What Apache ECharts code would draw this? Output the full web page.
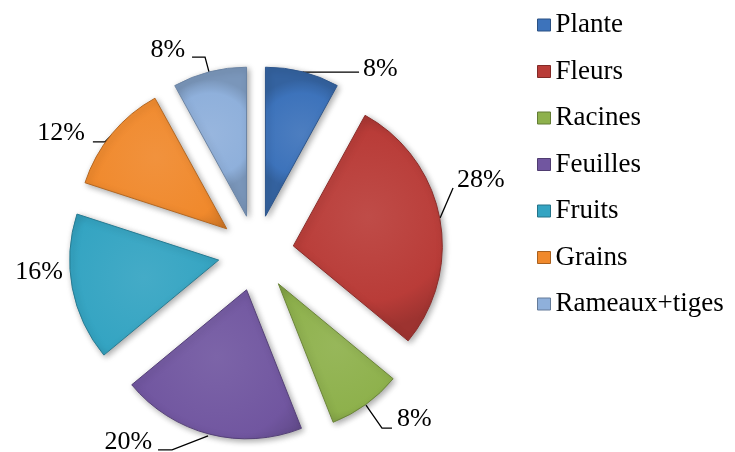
<!DOCTYPE html>
<html>
<head>
<meta charset="utf-8">
<script src="https://cdn.jsdelivr.net/npm/echarts@6/dist/echarts.min.js"></script>
<style>
html,body{margin:0;padding:0;background:#fff;}
#chart{width:735px;height:452px;}
</style>
</head>
<body>
<div id="chart"></div>
<script>
// ---- data ----
const categories = ['Plante', 'Fleurs', 'Racines', 'Feuilles', 'Fruits', 'Grains', 'Rameaux+tiges'];
const values = [8, 28, 8, 20, 16, 12, 8];
const colors = ['#3d73bb', '#b93c38', '#8eb14c', '#7156a0', '#34a4c2', '#f0892c', '#8fb0db'];

// ---- label placement tweaks (relative to the library's leader anchor on the un-exploded pie) ----
const labelTweaks = [
  { line: [[9.4, -36.8], [11, -36.6], [66, -36.6]], text: [70, -39.6], align: 'left' },
  { line: [[37.7, -7.1], [50.7, -37.1], [50.7, -37.1]], text: [54.7, -45.1], align: 'left' },
  { line: [[22.4, 31.5], [38.4, 54.5], [48.4, 54.5]], text: [53.4, 45.5], align: 'left' },
  { line: [[-10.9, 38.6], [-46.9, 52.6], [-60.9, 52.6]], text: [-66.9, 44.6], align: 'right' },
  { line: null, text: [-46.7, -8.9], align: 'right' },
  { line: [[-29.3, -23.1], [-36.3, -16.1], [-48.3, -16.1]], text: [-56.3, -25.1], align: 'right' },
  { line: [[-9.9, -36.6], [-13.9, -51.6], [-26.9, -51.6]], text: [-33.9, -58.6], align: 'right' }
];

const FONT = "'Liberation Serif', 'Times New Roman', Times, serif";

function shade(hex, amt) {
  const n = parseInt(hex.slice(1), 16);
  let r = (n >> 16) & 255, g = (n >> 8) & 255, b = n & 255;
  const f = c => Math.max(0, Math.min(255, Math.round(amt >= 0 ? c + (255 - c) * amt : c * (1 + amt))));
  return 'rgb(' + f(r) + ',' + f(g) + ',' + f(b) + ')';
}

function fillFor(c) {
  return {
    type: 'radial', x: 0.5, y: 0.45, r: 0.75,
    colorStops: [
      { offset: 0, color: shade(c, 0.08) },
      { offset: 0.75, color: c },
      { offset: 1, color: shade(c, -0.15) }
    ]
  };
}

const pieData = categories.map((name, i) => ({
  name: name,
  value: values[i],
  selected: true,
  itemStyle: { color: fillFor(colors[i]), borderColor: shade(colors[i], -0.25), borderWidth: 1 }
}));

const labelData = categories.map((name, i) => ({
  name: name,
  value: values[i],
  labelLine: { show: labelTweaks[i].line !== null }
}));

const chart = echarts.init(document.getElementById('chart'), null, { renderer: 'canvas' });
chart.setOption({
  animation: false,
  color: colors,
  legend: {
    orient: 'vertical',
    left: 532,
    top: 5,
    itemWidth: 13,
    itemHeight: 12,
    itemGap: 16.5,
    icon: 'rect',
    selectedMode: false,
    textStyle: { fontFamily: FONT, fontSize: 27, lineHeight: 30, color: '#000' },
    data: categories.map((n, i) => ({ name: n, itemStyle: { color: colors[i], borderColor: shade(colors[i], -0.3), borderWidth: 1 } }))
  },
  series: [{
    type: 'pie',
    center: [256, 253],
    radius: 149,
    startAngle: 90,
    clockwise: true,
    selectedMode: 'multiple',
    selectedOffset: 38,
    avoidLabelOverlap: false,
    emphasis: { disabled: true },
    itemStyle: { shadowColor: 'rgba(0,0,0,0.35)', shadowBlur: 6, shadowOffsetX: 2, shadowOffsetY: 2 },
    label: { show: false },
    labelLine: { show: false },
    data: pieData
  }, {
    type: 'pie',
    center: [256, 253],
    radius: 149,
    startAngle: 90,
    clockwise: true,
    silent: true,
    avoidLabelOverlap: false,
    emphasis: { disabled: true },
    itemStyle: { color: 'rgba(0,0,0,0)', borderWidth: 0 },
    label: {
      show: true,
      position: 'outside',
      formatter: p => p.value + '%',
      fontFamily: FONT,
      fontSize: 26,
      color: '#000'
    },
    labelLine: { lineStyle: { color: '#000', width: 1.3 }, length: 10, length2: 10 },
    labelLayout: function (params) {
      const t = labelTweaks[params.dataIndex];
      const pts = params.labelLinePoints;
      if (!pts || !pts.length) return {};
      const p0 = pts[0];
      const out = {
        x: p0[0] + t.text[0],
        y: p0[1] + t.text[1],
        align: t.align,
        verticalAlign: 'middle'
      };
      if (t.line) out.labelLinePoints = t.line.map(d => [p0[0] + d[0], p0[1] + d[1]]);
      return out;
    },
    data: labelData
  }]
});
</script>
</body>
</html>
